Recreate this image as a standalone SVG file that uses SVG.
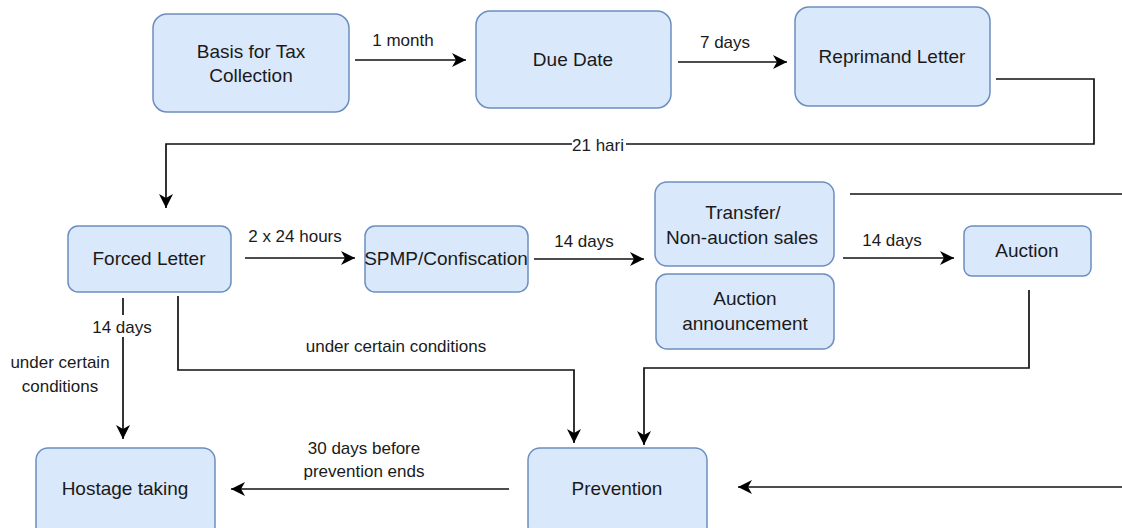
<svg xmlns="http://www.w3.org/2000/svg" width="1122" height="528" viewBox="0 0 1122 528">
<style>
.n{fill:#dae8fc;stroke:#6c8ebf;stroke-width:1.5}
.t{font-family:"Liberation Sans",Arial,sans-serif;font-size:19px;fill:#1a1a1a;text-anchor:middle}
.l{font-family:"Liberation Sans",Arial,sans-serif;font-size:17px;fill:#1a1a1a;text-anchor:middle}
.c{fill:none;stroke:#111;stroke-width:1.7}
.a{marker-end:url(#ah)}
.bg{fill:#fff}
</style>
<defs>
<marker id="ah" markerUnits="userSpaceOnUse" markerWidth="15" markerHeight="14" refX="14" refY="7" orient="auto">
<path d="M0,0 L14,7 L0,14 L4,7 z" fill="#000"/>
</marker>
</defs>
<rect width="1122" height="528" fill="#fff"/>
<g id="connectors">
<line class="c a" x1="355" y1="60" x2="466" y2="60"/>
<text class="l" x="403" y="46">1 month</text>
<line class="c a" x1="678" y1="62" x2="787" y2="62"/>
<text class="l" x="725" y="48">7 days</text>
<polyline class="c a" points="996,79 1094,79 1094,144 166,144 166,208"/>
<rect class="bg" x="572" y="136" width="54" height="17"/>
<text class="l" x="598" y="151">21 hari</text>
<line class="c a" x1="245" y1="258" x2="355" y2="258"/>
<text class="l" x="295" y="242">2 x 24 hours</text>
<line class="c a" x1="534" y1="259" x2="644" y2="259"/>
<text class="l" x="584" y="247">14 days</text>
<line class="c" x1="850" y1="194" x2="1122" y2="194"/>
<line class="c a" x1="843" y1="258" x2="954" y2="258"/>
<text class="l" x="892" y="246">14 days</text>
<line class="c a" x1="123" y1="298" x2="123" y2="439"/>
<rect class="bg" x="88" y="315" width="70" height="22"/>
<text class="l" x="122" y="333">14 days</text>
<text class="l" x="60" y="368">under certain</text>
<text class="l" x="60" y="392">conditions</text>
<polyline class="c a" points="178,296 178,370 574,370 574,443"/>
<text class="l" x="396" y="352">under certain conditions</text>
<polyline class="c a" points="1029,290 1029,368 644,368 644,445"/>
<line class="c a" x1="1122" y1="487" x2="738" y2="487"/>
<line class="c a" x1="509" y1="489" x2="231" y2="489"/>
<text class="l" x="364" y="454">30 days before</text>
<text class="l" x="364" y="477">prevention ends</text>
</g>
<g id="basis">
<rect class="n" x="153" y="14" width="196" height="98" rx="14"/>
<text class="t" x="251" y="58">Basis for Tax</text>
<text class="t" x="251" y="82">Collection</text>
</g>
<g id="due-date">
<rect class="n" x="476" y="11" width="195" height="97" rx="14"/>
<text class="t" x="573" y="66">Due Date</text>
</g>
<g id="reprimand">
<rect class="n" x="795" y="7" width="195" height="99" rx="14"/>
<text class="t" x="892" y="63">Reprimand Letter</text>
</g>
<g id="forced">
<rect class="n" x="68" y="226" width="163" height="66" rx="10"/>
<text class="t" x="149" y="265">Forced Letter</text>
</g>
<g id="spmp">
<rect class="n" x="365" y="226" width="163" height="66" rx="10"/>
<text class="t" x="446" y="265">SPMP/Confiscation</text>
</g>
<g id="transfer">
<rect class="n" x="655" y="182" width="179" height="84" rx="12"/>
<text class="t" x="743" y="219">Transfer/</text>
<text class="t" x="742" y="244">Non-auction sales</text>
</g>
<g id="announcement">
<rect class="n" x="656" y="274" width="178" height="75" rx="11"/>
<text class="t" x="745" y="305">Auction</text>
<text class="t" x="745" y="330">announcement</text>
</g>
<g id="auction">
<rect class="n" x="964" y="226" width="127" height="50" rx="8"/>
<text class="t" x="1027" y="257">Auction</text>
</g>
<g id="hostage">
<rect class="n" x="36" y="448" width="179" height="90" rx="12"/>
<text class="t" x="125" y="495">Hostage taking</text>
</g>
<g id="prevention">
<rect class="n" x="528" y="448" width="179" height="90" rx="12"/>
<text class="t" x="617" y="495">Prevention</text>
</g>
</svg>
